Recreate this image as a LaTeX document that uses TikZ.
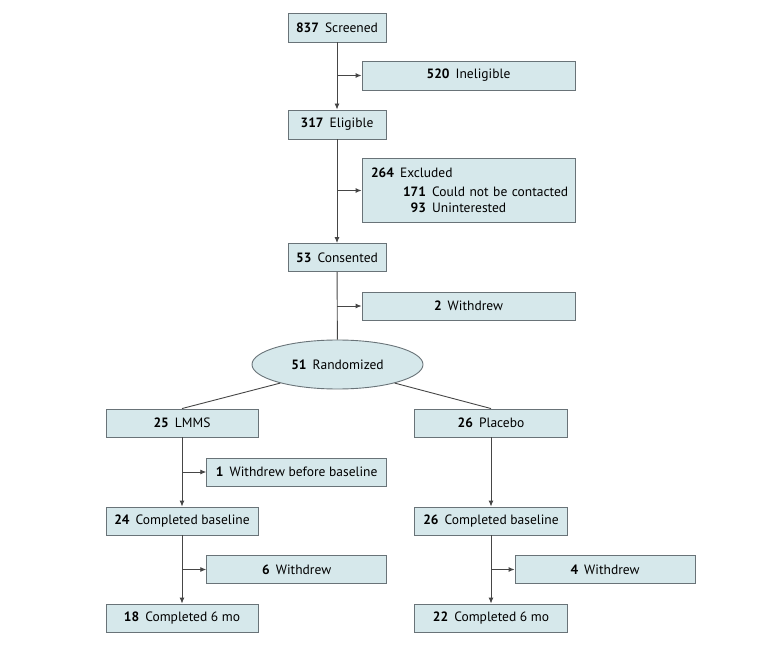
\documentclass[tikz,border=0pt]{standalone}
\usepackage{fontspec}
\setmainfont{PT Sans}
\usetikzlibrary{arrows.meta,shapes.geometric}
\definecolor{boxfill}{RGB}{214,232,235}
\definecolor{boxline}{RGB}{105,115,120}
\definecolor{linecol}{RGB}{70,70,70}
\newcommand\cnt[1]{\textbf{#1}\hspace{0.45em}}
\begin{document}
\begin{tikzpicture}[x=1pt,y=-1pt,
  every node/.style={font=\fontsize{13.5}{16}\selectfont},
  box/.style={draw=boxline,fill=boxfill,line width=0.9pt,inner sep=0pt,align=center},
  flow/.style={draw=linecol,line width=0.9pt,-{Latex[length=6pt,width=5pt]}},
  plain/.style={draw=linecol,line width=0.9pt}]
\useasboundingbox (0,0) rectangle (780,647);
\node[box,minimum width=98pt,minimum height=29pt] (scr) at (337,27.5) {\cnt{837}Screened};
\node[box,minimum width=213pt,minimum height=29pt] (inel) at (468.5,75.5) {\cnt{520}Ineligible};
\node[box,minimum width=98pt,minimum height=29pt] (elig) at (337,124.5) {\cnt{317}Eligible};
\node[box,minimum width=213pt,minimum height=64pt,text width=195pt,align=left] (excl) at (468.5,190.5)
  {\fontsize{13.5}{18.5}\selectfont\mbox{\cnt{264}Excluded}\\
   \mbox{\hspace*{30pt}\makebox[25pt][r]{\textbf{171}}\hspace{0.45em}Could not be contacted}\\
   \mbox{\hspace*{30pt}\makebox[25pt][r]{\textbf{93}}\hspace{0.45em}Uninterested}};
\node[box,minimum width=98pt,minimum height=28pt] (cons) at (337,257.5) {\cnt{53}Consented};
\node[box,minimum width=213pt,minimum height=28pt] (wd2) at (468.5,306) {\cnt{2}Withdrew};
\node[box,ellipse,minimum width=171pt,minimum height=49pt] (rand) at (337.5,364.5) {\cnt{51}Randomized};
\node[box,minimum width=152pt,minimum height=28pt] (lmms) at (182,423) {\cnt{25}LMMS};
\node[box,minimum width=153pt,minimum height=28pt] (plac) at (491,423) {\cnt{26}Placebo};
\node[box,minimum width=180pt,minimum height=28pt] (wbb) at (296.7,472) {\cnt{1}Withdrew before baseline};
\node[box,minimum width=152pt,minimum height=28pt] (cbl) at (182,521) {\cnt{24}Completed baseline};
\node[box,minimum width=180pt,minimum height=28pt] (wd6) at (296.7,569.5) {\cnt{6}Withdrew};
\node[box,minimum width=152pt,minimum height=28pt] (csl) at (182,618) {\cnt{18}Completed 6 mo};
\node[box,minimum width=153pt,minimum height=28pt] (cbr) at (491,521) {\cnt{26}Completed baseline};
\node[box,minimum width=180pt,minimum height=28pt] (wd4) at (605,569.5) {\cnt{4}Withdrew};
\node[box,minimum width=153pt,minimum height=28pt] (csr) at (491,618) {\cnt{22}Completed 6 mo};
% main chain
\draw[flow] (scr) -- (elig);
\draw[flow] (scr.south |- inel.west) -- (inel.west);
\draw[flow] (elig) -- (cons);
\draw[flow] (elig.south |- excl.west) -- (excl.west);
\draw[plain] (cons) -- (rand);
\draw[flow] (cons.south |- wd2.west) -- (wd2.west);
\draw[plain] (rand.198) -- (lmms.north);
\draw[plain] (rand.342) -- (plac.north);
% left arm
\draw[flow] (lmms) -- (cbl);
\draw[flow] (lmms.south |- wbb.west) -- (wbb.west);
\draw[flow] (cbl) -- (csl);
\draw[flow] (cbl.south |- wd6.west) -- (wd6.west);
% right arm
\draw[flow] (plac) -- (cbr);
\draw[flow] (cbr) -- (csr);
\draw[flow] (cbr.south |- wd4.west) -- (wd4.west);
\end{tikzpicture}
\end{document}
